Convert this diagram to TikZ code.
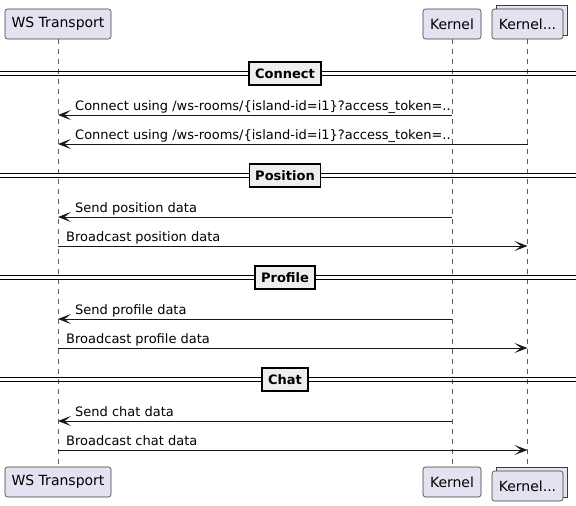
\documentclass[tikz,border=0pt]{standalone}
\usepackage{fontspec}
\setmainfont{DejaVu Sans}
\usetikzlibrary{arrows.meta}
\definecolor{partfill}{HTML}{E2E2F0}
\definecolor{partdraw}{HTML}{181818}
\definecolor{divfill}{HTML}{EEEEEE}
\begin{document}
\begin{tikzpicture}[x=1pt,y=-1pt,
  part/.style={draw=partdraw!85,fill=partfill,line width=0.6pt,rounded corners=2.5pt,inner sep=0pt,
    minimum height=30pt,font=\fontsize{14}{16}\selectfont,text=black},
  partback/.style={draw=partdraw!85,fill=partfill,line width=0.6pt,inner sep=0pt,minimum height=30pt,minimum width=71pt},
  lifeline/.style={draw=partdraw!70,line width=0.6pt,dash pattern=on 5pt off 5pt},
  dline/.style={draw=black,line width=0.9pt},
  divbox/.style={draw=black,fill=divfill,line width=1.3pt,inner xsep=6pt,inner ysep=0pt,minimum height=23pt,
    font=\fontsize{13}{15}\selectfont\bfseries},
  msg/.style={draw=partdraw,line width=0.9pt,-{Stealth[length=13pt,width=10pt,inset=6.5pt]}},
  lbl/.style={anchor=base west,inner sep=0pt,font=\fontsize{13}{15}\selectfont,text=black}
]
\path[use as bounding box] (0,0) rectangle (576,506);

% top participants
\node[part,minimum width=106pt] (wsT) at (58,24) {WS Transport};
\node[part,minimum width=58pt] (kT) at (452,24) {Kernel};
\node[partback] (kcTb) at (531.5,20) {};
\node[part,minimum width=71pt] (kcT) at (527.5,24) {Kernel...};

% bottom participants
\node[part,minimum width=106pt] (wsB) at (58,482) {WS Transport};
\node[part,minimum width=58pt] (kB) at (452,482) {Kernel};
\node[partback] (kcBb) at (531.5,482) {};
\node[part,minimum width=71pt] (kcB) at (527.5,486) {Kernel...};

% lifelines
\draw[lifeline] (wsT.south) -- (wsB.north);
\draw[lifeline] (kT.south) -- (kB.north);
\draw[lifeline] (kcT.south) -- (kcBb.north -| kcT.south);

% dividers
\foreach \y/\t/\n in {73.5/Connect/dConnect,175.5/Position/dPosition,277.5/Profile/dProfile,379.5/Chat/dChat}{
  \draw[dline] (0,\y-1.7) -- (576,\y-1.7);
  \draw[dline] (0,\y+1.7) -- (576,\y+1.7);
  \node[divbox] (\n) at (285,\y) {\t};
}

% messages
\draw[msg] (kT.south |- 0,115) -- (wsT.south |- 0,115);
\node[lbl] (m1) at (75,110.5) {Connect using /ws-rooms/\{island-id=i1\}?access\_token=..};
\draw[msg] (kcT.south |- 0,144) -- (wsT.south |- 0,144);
\node[lbl] (m2) at (75,139.5) {Connect using /ws-rooms/\{island-id=i1\}?access\_token=..};

\draw[msg] (kT.south |- 0,217) -- (wsT.south |- 0,217);
\node[lbl] (m3) at (75,212.5) {Send position data};
\draw[msg] (wsT.south |- 0,246) -- (kcT.south |- 0,246);
\node[lbl] (m4) at (66,241.5) {Broadcast position data};

\draw[msg] (kT.south |- 0,319) -- (wsT.south |- 0,319);
\node[lbl] (m5) at (75,314.5) {Send profile data};
\draw[msg] (wsT.south |- 0,348) -- (kcT.south |- 0,348);
\node[lbl] (m6) at (66,343.5) {Broadcast profile data};

\draw[msg] (kT.south |- 0,421) -- (wsT.south |- 0,421);
\node[lbl] (m7) at (75,416.5) {Send chat data};
\draw[msg] (wsT.south |- 0,450) -- (kcT.south |- 0,450);
\node[lbl] (m8) at (66,445.5) {Broadcast chat data};
\end{tikzpicture}
\end{document}
